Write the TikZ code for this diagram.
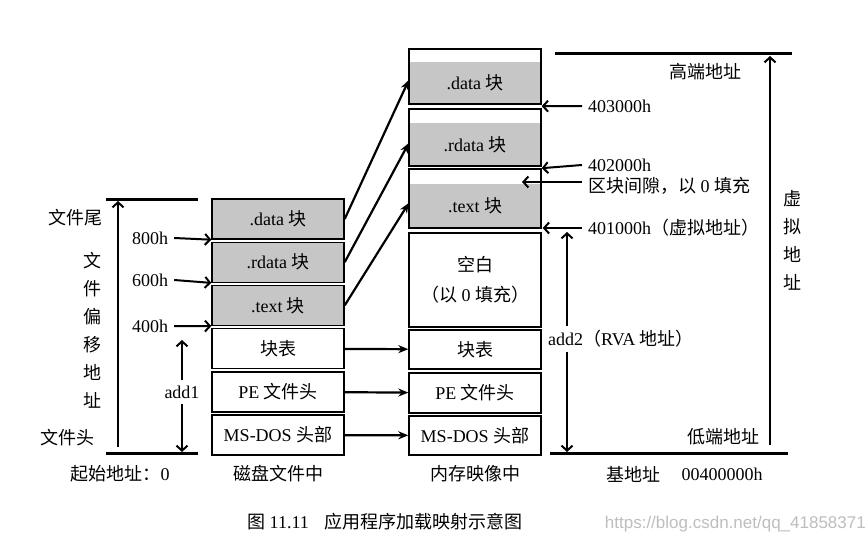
\documentclass[tikz,border=0pt]{standalone}
\usepackage{fontspec}
\setmainfont{Liberation Serif}
\newfontfamily\cjk{Noto Sans CJK SC}
\newfontfamily\wmfont{Liberation Sans}
\usetikzlibrary{arrows.meta}
\definecolor{sectiongray}{RGB}{198,198,198}
\definecolor{markgray}{RGB}{190,190,190}
\newcommand{\zh}[1]{{\cjk #1}}
\tikzset{
  boxline/.style={draw=black, line width=1.4pt},
  blk/.style={boxline, minimum width=132pt, minimum height=40pt, inner sep=0pt, font=\fontsize{18}{20}\selectfont},
  secblk/.style={blk, fill=sectiongray},
  secfill/.style={fill=sectiongray, minimum width=132pt, inner sep=0pt, font=\fontsize{18}{20}\selectfont},
  lbl/.style={inner sep=0pt, font=\fontsize{18}{20}\selectfont},
  vlbl/.style={inner sep=0pt, align=center, font=\fontsize{18}{28}\selectfont},
  axis/.style={line width=3pt},
  maparrow/.style={line width=2.2pt, -{Stealth[length=10pt,width=8pt]}},
  ptr/.style={line width=2pt, -{Straight Barb[length=5pt,width=11pt]}},
}
\begin{document}
\begin{tikzpicture}[x=1pt, y=-1pt]
\fill[white] (0,0) rectangle (867,548);
\useasboundingbox (0,0) rectangle (867,548);

% disk file
\node[secblk] (ddata)  at (278,219.0) {.data \zh{块}};
\node[secblk] (drdata) at (278,262.2) {.rdata \zh{块}};
\node[secblk] (dtext)  at (278,305.4) {.text \zh{块}};
\node[blk]    (dtable) at (278,348.6) {\zh{块表}};
\node[blk]    (dpe)    at (278,391.8) {PE \zh{文件头}};
\node[blk]    (ddos)   at (278,435.0) {MS-DOS \zh{头部}};

% memory image
\node[secfill, minimum height=42pt] (mdata)  at (475, 83.0) {.data \zh{块}};
\draw[boxline]                                  (409, 49) rectangle (541,104);
\node[secfill, minimum height=43pt] (mrdata) at (475,144.5) {.rdata \zh{块}};
\draw[boxline]                                  (409,109) rectangle (541,166);
\node[secfill, minimum height=44pt] (mtext)  at (475,206.0) {.text \zh{块}};
\draw[boxline]                                  (409,169) rectangle (541,228);
\node[blk, minimum height=94pt, align=center, font=\fontsize{18}{30}\selectfont] (mgap) at (475,280) {\zh{空白}\\\zh{（以} 0 \zh{填充）}};
\node[blk, minimum height=39pt] (mtable) at (475,349.5) {\zh{块表}};
\node[blk]                      (mpe)    at (475,393.0) {PE \zh{文件头}};
\node[blk, minimum height=39pt] (mdos)   at (475,435.5) {MS-DOS \zh{头部}};

% mapping
\draw[maparrow] (ddata.east)  -- ([yshift=3pt]mdata.west);
\draw[maparrow] (drdata.east) -- ([yshift=1.5pt]mrdata.west);
\draw[maparrow] (dtext.east)  -- ([yshift=3pt]mtext.west);
\draw[maparrow] (dtable) -- (mtable);
\draw[maparrow] (dpe)    -- (mpe);
\draw[maparrow] (ddos)   -- (mdos);

% file offsets
\draw[axis] (106,200) -- (198,200);
\draw[axis] (106,453) -- (198,453);
\coordinate (ltop) at (118,201);
\coordinate (lbot) at (118,447);
\draw[ptr] (lbot) -- (ltop);
\node[lbl]  (tail)   at (75,218)  {\zh{文件尾}};
\node[lbl]  (head)   at (67,438)  {\zh{文件头}};
\node[vlbl] (offset) at (92,330)  {\zh{文}\\\zh{件}\\\zh{偏}\\\zh{移}\\\zh{地}\\\zh{址}};
\node[lbl]  (o800)   at (150,238) {800h};
\node[lbl]  (o600)   at (150,280) {600h};
\node[lbl]  (o400)   at (150,326) {400h};
\draw[ptr] ([xshift=6pt]o800.east) -- (ddata.south west);
\draw[ptr] ([xshift=6pt]o600.east) -- (drdata.south west);
\draw[ptr] ([xshift=6pt]o400.east) -- (dtext.south west);
\node[lbl]  (add1)   at (182,392) {add1};
\coordinate (a1top) at (182,340);
\coordinate (a1bot) at (182,452);
\draw[ptr, shorten <=5pt] (add1) -- (a1top);
\draw[ptr, shorten <=5pt] (add1) -- (a1bot);

% virtual addresses
\draw[axis] (555,54)  -- (792,54);
\draw[axis] (550,453) -- (788,453);
\coordinate (rtop) at (770,56);
\coordinate (rbot) at (770,445);
\draw[ptr] (rbot) -- (rtop);
\node[lbl]  (high) at (705,72)  {\zh{高端地址}};
\node[lbl]  (low)  at (723,437) {\zh{低端地址}};
\node[vlbl] (virt) at (792,240) {\zh{虚}\\\zh{拟}\\\zh{地}\\\zh{址}};
\node[lbl, anchor=west] (a403) at (588,106) {403000h};
\node[lbl, anchor=west] (a402) at (588,165) {402000h};
\node[lbl, anchor=west] (agap) at (588,186) {\zh{区块间隙，以} 0 \zh{填充}};
\node[lbl, anchor=west] (a401) at (588,228) {401000h\zh{（虚拟地址）}};
\coordinate (gaptip) at (522,182);
\draw[ptr] ([xshift=-6pt]a403.west) -- ([yshift=-2pt]mdata.south -| mgap.east);
\draw[ptr] ([xshift=-6pt]a402.west) -- ([yshift=-2pt]mrdata.south -| mgap.east);
\draw[ptr] ([xshift=-6pt]agap.west |- gaptip) -- (gaptip);
\draw[ptr] ([xshift=-6pt]a401.west) -- ([xshift=1pt]a401.west -| mgap.east);
\node[lbl, anchor=west] (add2) at (548,339) {add2\zh{（}RVA \zh{地址）}};
\coordinate (a2top) at (567,232);
\coordinate (a2bot) at (567,452);
\draw[ptr, shorten <=4pt] (add2.north -| a2top) -- (a2top);
\draw[ptr, shorten <=4pt] (add2.south -| a2top) -- (a2bot);

% column captions
\node[lbl] (start)   at (120,474) {\zh{起始地址：}0};
\node[lbl] (disk)    at (278,474) {\zh{磁盘文件中}};
\node[lbl] (mem)     at (475,474) {\zh{内存映像中}};
\node[lbl] (base)    at (633,474) {\zh{基地址}};
\node[lbl] (baseval) at (722,474) {00400000h};

\node[lbl, anchor=west] (caption) at (247,522) {\zh{图} 11.11\hspace{16pt}\zh{应用程序加载映射示意图}};
\node[anchor=east, inner sep=0pt, text=markgray, font=\wmfont\fontsize{17}{20}\selectfont] (wm) at (866,524) {https://blog.csdn.net/qq\_41858371};
\end{tikzpicture}
\end{document}
